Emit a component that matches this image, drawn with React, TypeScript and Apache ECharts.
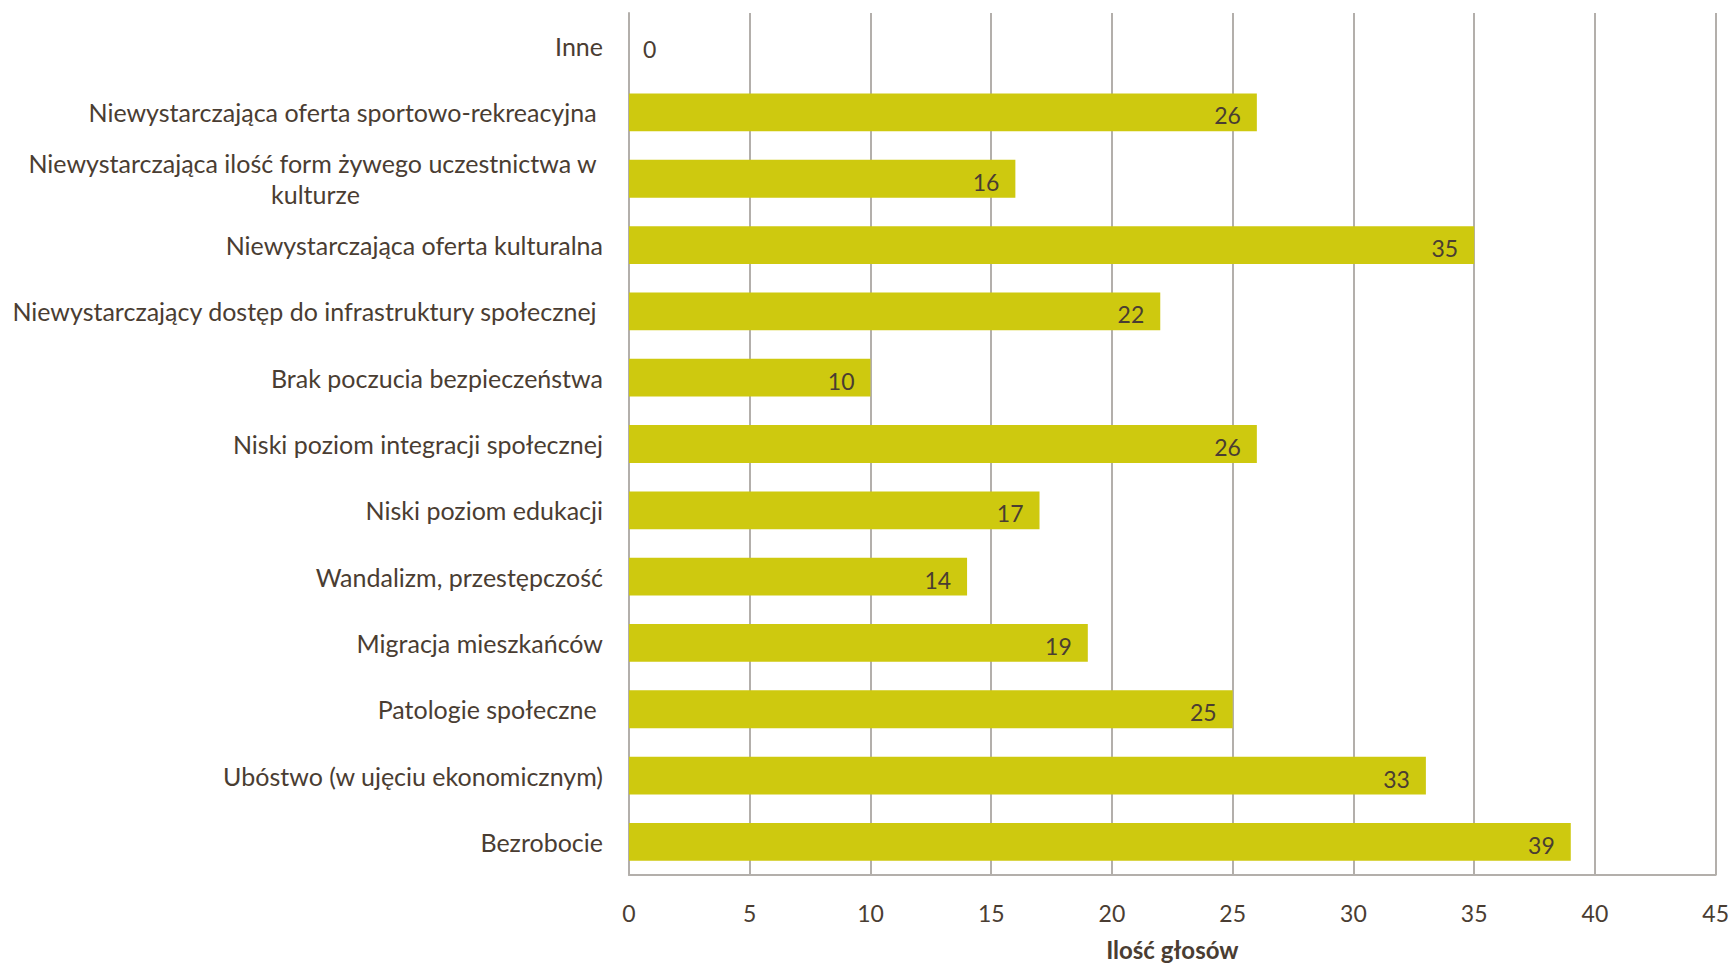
import React, { useEffect, useRef } from "react";
import * as echarts from "echarts";

const categories = [
  "Inne",
  "Niewystarczająca oferta sportowo-rekreacyjna ",
  "Niewystarczająca ilość form żywego uczestnictwa w \nkulturze",
  "Niewystarczająca oferta kulturalna",
  "Niewystarczający dostęp do infrastruktury społecznej ",
  "Brak poczucia bezpieczeństwa",
  "Niski poziom integracji społecznej",
  "Niski poziom edukacji",
  "Wandalizm, przestępczość",
  "Migracja mieszkańców",
  "Patologie społeczne ",
  "Ubóstwo (w ujęciu ekonomicznym)",
  "Bezrobocie",
];
const votes = [0, 26, 16, 35, 22, 10, 26, 17, 14, 19, 25, 33, 39];
const xTicks = { min: 0, max: 45, interval: 5 };
const axisName = "Ilość głosów";

const TEXT = "#4a3d32";
const BAR = "#cec90f";
const GRID = "#b3afab";
const FONT = "Lato";

export default function App() {
  const ref = useRef<HTMLDivElement>(null);
  useEffect(() => {
    if (!ref.current) return;
    const chart = echarts.init(ref.current, undefined, { renderer: "svg" });
    chart.setOption({
      animation: false,
      textStyle: { fontFamily: FONT, color: TEXT },
      grid: { left: 629, right: 16, top: 13, bottom: 85, containLabel: false },
      xAxis: {
        type: "value",
        min: xTicks.min,
        max: xTicks.max,
        interval: xTicks.interval,
        name: axisName,
        nameLocation: "middle",
        nameGap: 62,
        nameTextStyle: { fontFamily: FONT, fontSize: 24, fontWeight: "bold", color: TEXT },
        axisLine: { show: true, lineStyle: { color: GRID, width: 2 } },
        axisTick: { show: false },
        axisLabel: { fontFamily: FONT, fontSize: 23, color: TEXT, margin: 26 },
        splitLine: { show: true, lineStyle: { color: GRID, width: 2 } },
      },
      yAxis: {
        type: "category",
        inverse: true,
        data: categories,
        axisLine: { show: true, lineStyle: { color: GRID, width: 2 } },
        axisTick: { show: false },
        axisLabel: {
          fontFamily: FONT,
          fontSize: 25,
          color: TEXT,
          margin: 26,
          align: "right",
          formatter: (v: string) =>
            v.indexOf("\n") >= 0
              ? v.split("\n").map((l) => "{c|" + l + "}").join("\n")
              : v,
          rich: {
            c: { align: "center", fontFamily: FONT, fontSize: 25, color: TEXT, lineHeight: 31 },
          },
        },
        splitLine: { show: false },
      },
      series: [
        {
          type: "bar",
          barCategoryGap: "43%",
          itemStyle: { color: BAR },
          data: votes.map((v) =>
            v === 0
              ? { value: v, label: { position: "right", distance: 14 } }
              : { value: v }
          ),
          label: {
            show: true,
            position: "insideRight",
            distance: 16,
            offset: [0, 3],
            fontFamily: FONT,
            fontSize: 23,
            color: TEXT,
          },
        },
      ],
    });
    return () => chart.dispose();
  }, []);
  return (
    <div
      ref={ref}
      style={{ position: "fixed", left: 0, top: 0, width: 1732, height: 966, background: "#fff" }}
    />
  );
}
